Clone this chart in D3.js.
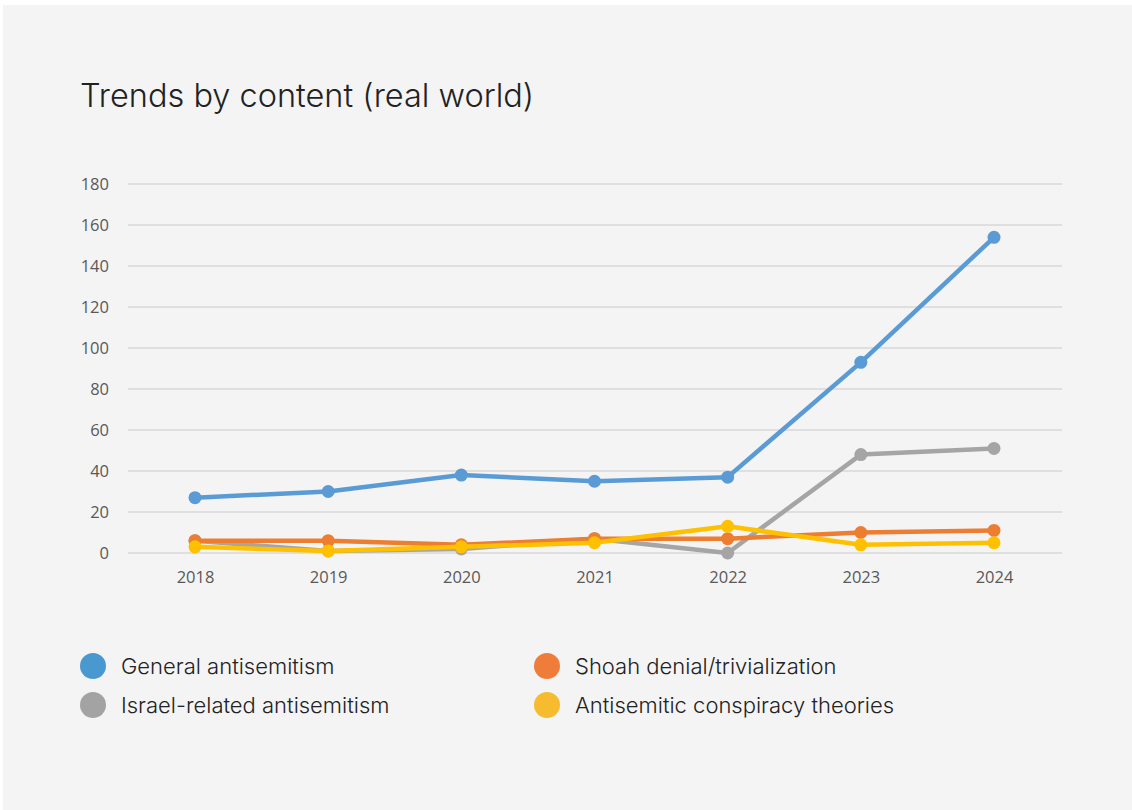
<!DOCTYPE html>
<html>
<head>
<meta charset="utf-8">
<script src="https://cdn.jsdelivr.net/npm/d3@7"></script>
<style>
  body { margin: 0; background: #ffffff; }
  svg { display: block; }
</style>
</head>
<body>
<svg width="1132" height="810"></svg>
<script>
// data
const years = ['2018', '2019', '2020', '2021', '2022', '2023', '2024'];
const general = [27, 30, 38, 35, 37, 93, 154];
const israel = [6, 1, 2, 7, 0, 48, 51];
const shoah = [6, 6, 4, 7, 7, 10, 11];
const conspiracy = [3, 1, 3, 5, 13, 4, 5];
const yTicks = [0, 20, 40, 60, 80, 100, 120, 140, 160, 180];

// draw order: general, israel, shoah, conspiracy (yellow on top)
const series = [
  { name: 'General antisemitism', values: general, line: '#5b9bd5', dot: '#4a98d0' },
  { name: 'Israel-related antisemitism', values: israel, line: '#a5a5a5', dot: '#a3a3a3' },
  { name: 'Shoah denial/trivialization', values: shoah, line: '#ed7d31', dot: '#f07c3a' },
  { name: 'Antisemitic conspiracy theories', values: conspiracy, line: '#ffc000', dot: '#f6bb2e' }
];

const svg = d3.select('svg');

// panel
svg.append('rect').attr('x', 3).attr('y', 5).attr('width', 1129).attr('height', 805).attr('fill', '#f4f4f4');

svg.append('text')
  .attr('x', 80).attr('y', 107)
  .style('font-family', 'Inter, Lato, sans-serif')
  .style('font-weight', 300)
  .style('font-size', '32.5px')
  .attr('fill', '#222')
  .text('Trends by content (real world)');

const x = d3.scalePoint().domain(years).range([195, 994]);
const y = d3.scaleLinear().domain([0, 180]).range([553, 184]);

// gridlines
svg.append('g')
  .selectAll('line')
  .data(yTicks)
  .enter()
  .append('line')
  .attr('x1', 128).attr('x2', 1062)
  .attr('y1', d => y(d)).attr('y2', d => y(d))
  .attr('stroke', '#d9d9d9')
  .attr('stroke-width', 1.5);

const yAxis = svg.append('g')
  .attr('transform', 'translate(109,0)')
  .call(d3.axisLeft(y).tickValues(yTicks).tickSize(0).tickPadding(0));
yAxis.select('.domain').remove();
yAxis.selectAll('text')
  .style('font-family', 'Open Sans, sans-serif')
  .style('font-size', '16.5px')
  .attr('fill', '#595959');

const xAxis = svg.append('g')
  .attr('transform', 'translate(0,571)')
  .call(d3.axisBottom(x).tickSize(0).tickPadding(0));
xAxis.select('.domain').remove();
xAxis.selectAll('text')
  .attr('dy', '0.71em')
  .style('font-family', 'Open Sans, sans-serif')
  .style('font-size', '16.5px')
  .attr('fill', '#595959');

const line = d3.line()
  .x((d, i) => x(years[i]))
  .y(d => y(d));

series.forEach(s => {
  const g = svg.append('g');
  g.append('path')
    .attr('d', line(s.values))
    .attr('fill', 'none')
    .attr('stroke', s.line)
    .attr('stroke-width', 4.5)
    .attr('stroke-linejoin', 'round');
  g.selectAll('circle')
    .data(s.values)
    .enter()
    .append('circle')
    .attr('cx', (d, i) => x(years[i]))
    .attr('cy', d => y(d))
    .attr('r', 6.5)
    .attr('fill', s.line);
});

// legend
const legendPos = [
  { x: 93, y: 666 }, { x: 93, y: 705 }, { x: 547, y: 666 }, { x: 547, y: 705 }
];
const legend = svg.append('g')
  .selectAll('g')
  .data(series)
  .enter()
  .append('g')
  .attr('transform', (d, i) => `translate(${legendPos[i].x},${legendPos[i].y})`);
legend.append('circle').attr('r', 13).attr('fill', d => d.dot);
legend.append('text')
  .attr('x', 28).attr('dy', '0.35em')
  .style('font-family', 'Inter, Lato, sans-serif')
  .style('font-weight', 300)
  .style('font-size', '22px')
  .attr('fill', '#222')
  .text(d => d.name);
</script>
</body>
</html>
